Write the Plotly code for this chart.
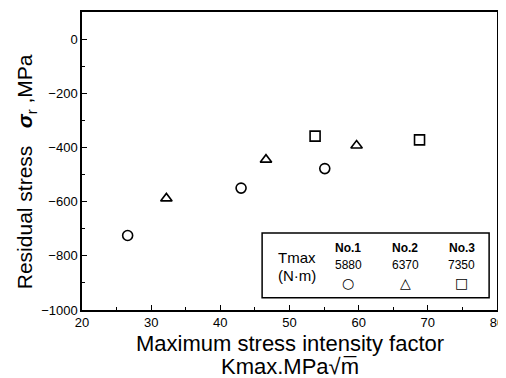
import plotly.graph_objects as go

# data
no1_k = [26.6, 43.0, 55.1]
no1_s = [-725, -550, -478]
no2_k = [32.2, 46.6, 59.7]
no2_s = [-588, -445, -393]
no3_k = [53.7, 68.8]
no3_s = [-358, -372]

series_names = ["No.1", "No.2", "No.3"]
tmax_vals = ["5880", "6370", "7350"]
legend_syms = ["○", "△", "□"]

FONT = "Liberation Sans, Arial, sans-serif"

fig = go.Figure()
mk = dict(color="black", size=10, line=dict(color="black", width=1.6))
fig.add_trace(go.Scatter(x=no1_k, y=no1_s, mode="markers", marker=dict(symbol="circle-open", **mk)))
fig.add_trace(go.Scatter(x=no2_k, y=no2_s, mode="markers", marker=dict(symbol="triangle-up-open", **mk)))
fig.add_trace(go.Scatter(x=no3_k, y=no3_s, mode="markers", marker=dict(symbol="square-open", **mk)))

axis_common = dict(showline=True, linecolor="black", linewidth=1.5, mirror=True,
                   ticks="inside", ticklen=5, tickwidth=1.2, tickcolor="black",
                   showgrid=False, zeroline=False, ticklabeloverflow="allow",
                   tickfont=dict(family=FONT, size=13, color="black"))
fig.update_xaxes(range=[20, 80], dtick=10, minor=dict(dtick=5, ticks="inside", ticklen=3, tickcolor="black"), **axis_common)
fig.update_yaxes(range=[-1000, 100], tickvals=[0, -200, -400, -600, -800, -1000],
                 ticktext=["0", "\u2212200", "\u2212400", "\u2212600", "\u2212800", "\u22121000"],
                 minor=dict(dtick=100, ticks="inside", ticklen=3, tickcolor="black"), **axis_common)

def a(text, x, y, size, family=FONT, angle=0):
    return dict(text=text, x=x, y=y, xref="paper", yref="paper", xanchor="center", yanchor="middle",
                textangle=angle, showarrow=False, font=dict(family=family, size=size, color="black"))

ann = []
ann.append(a("Maximum stress intensity factor", 0.5, -0.113, 22))
ann.append(a("Kmax.MPa√m\u0305", 0.5, -0.19, 22))
ann.append(a("Residual stress   <b><i>σ</i></b><sub>r</sub> ,MPa", -0.133, 0.465, 21, angle=-90))
# legend box contents
ann.append(a("Tmax", 0.518, 0.177, 15))
ann.append(a("(N·m)", 0.518, 0.117, 15))
xs = [0.641, 0.779, 0.915]
for i in range(3):
    ann.append(a("<b>" + series_names[i] + "</b>", xs[i], 0.207, 12))
    ann.append(a(tmax_vals[i], xs[i], 0.15, 12))
    ann.append(a(legend_syms[i], xs[i], 0.09, 14, family="DejaVu Sans"))

# page body adds an offset, so the figure is sized to fit the window
fig.update_layout(
    width=498, height=370, showlegend=False,
    margin=dict(l=74, r=3, t=2, b=68),
    plot_bgcolor="white", paper_bgcolor="white",
    annotations=ann,
    shapes=[dict(type="rect", xref="paper", yref="paper", x0=0.434, x1=0.981, y0=0.041, y1=0.258,
                 line=dict(color="black", width=1.5))],
)
fig.write_html("out.html")
